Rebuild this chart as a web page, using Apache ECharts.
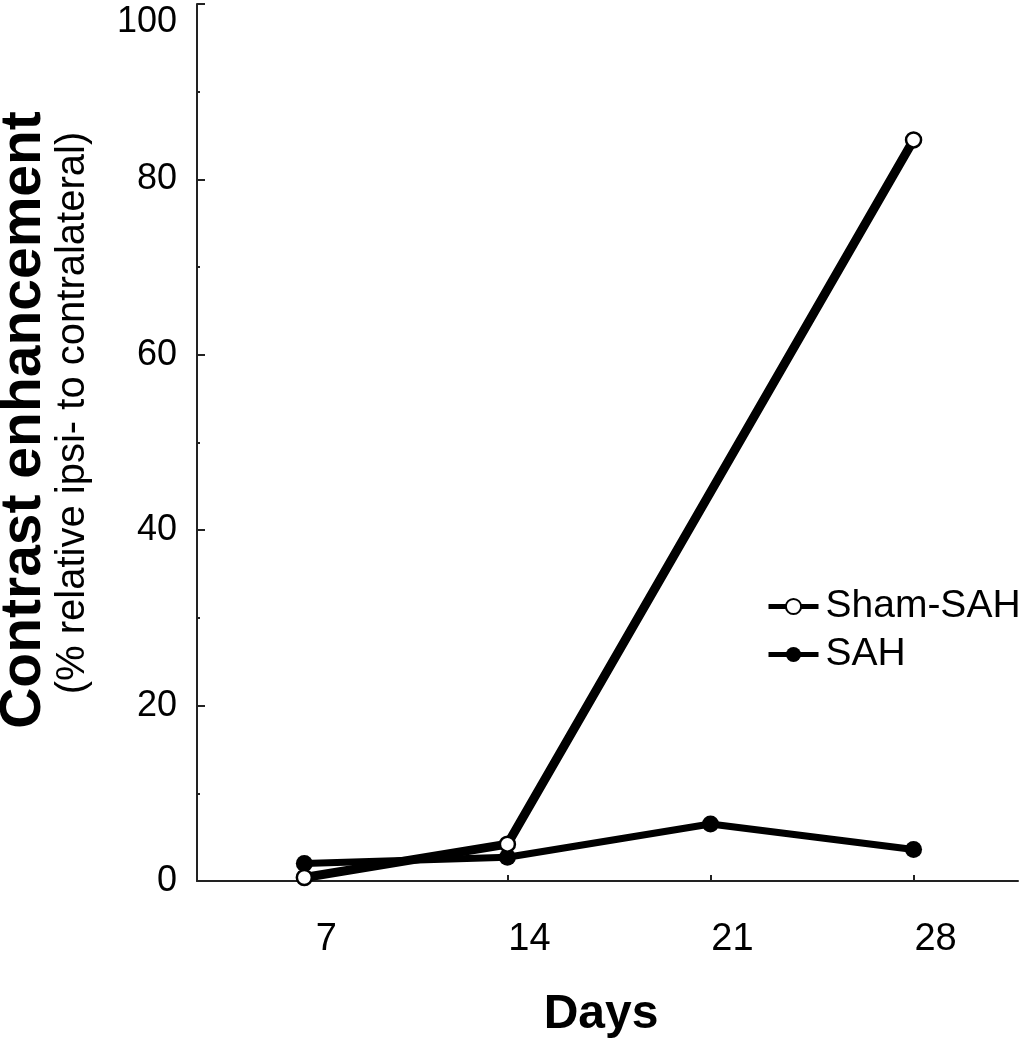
<!DOCTYPE html>
<html>
<head>
<meta charset="utf-8">
<script src="https://cdn.jsdelivr.net/npm/echarts@6/dist/echarts.min.js"></script>
<style>
  html, body { margin: 0; padding: 0; background: #fff; }
  #chart { width: 1022px; height: 1050px; }
</style>
</head>
<body>
<div id="chart"></div>
<script>
// ---- data ----
const days = [7, 14, 21, 28];
const shamDays = [7, 14, 28];
const shamValues = [0.4, 4.2, 84.5];
const sahDays = [7, 14, 21, 28];
const sahValues = [2.0, 2.7, 6.5, 3.6];
const yTicks = [0, 20, 40, 60, 80, 100];
const seriesNames = ['Sham-SAH', 'SAH'];

const FONT = '"Liberation Sans", Arial, Helvetica, sans-serif';

const shamData = shamDays.map((d, i) => [d, shamValues[i]]);
const sahData = sahDays.map((d, i) => [d, sahValues[i]]);

const chart = echarts.init(document.getElementById('chart'), null, { renderer: 'canvas' });

chart.setOption({
  animation: false,
  backgroundColor: '#fff',
  grid: { left: 197, right: 4, top: 4, bottom: 169, containLabel: false, outerBoundsMode: 'none' },
  xAxis: {
    type: 'value',
    min: 3.3,
    max: 31.6,
    axisLine: { show: true, lineStyle: { color: '#222', width: 2 } },
    axisTick: { show: true, inside: true, length: 6, customValues: days, lineStyle: { color: '#222', width: 2 } },
    axisLabel: {
      customValues: days,
      margin: 40,
      fontFamily: FONT,
      fontSize: 38,
      color: '#000',
      padding: [0, 0, 0, 44]
    },
    splitLine: { show: false }
  },
  yAxis: {
    type: 'value',
    min: yTicks[0],
    max: yTicks[yTicks.length - 1],
    interval: 20,
    axisLine: { show: true, lineStyle: { color: '#222', width: 2 } },
    axisTick: { show: true, inside: true, length: 8, lineStyle: { color: '#222', width: 2 } },
    minorTick: { show: true, splitNumber: 2, length: 3, lineStyle: { color: '#222', width: 2 } },
    axisLabel: {
      margin: 20,
      fontFamily: FONT,
      fontSize: 36,
      color: '#000',
      verticalAlignMaxLabel: 'top'
    },
    splitLine: { show: false }
  },
  legend: {
    orient: 'vertical',
    left: 761,
    top: 582,
    itemWidth: 50,
    itemHeight: 19,
    itemGap: 9,
    textStyle: { fontFamily: FONT, fontSize: 39, color: '#000', padding: [0, 0, 0, 2] },
    data: [
      { name: seriesNames[0], lineStyle: { width: 5, color: '#000' }, itemStyle: { color: '#fff', borderColor: '#000', borderWidth: 2 } },
      { name: seriesNames[1], lineStyle: { width: 5, color: '#000' }, itemStyle: { color: '#000' } }
    ]
  },
  series: [
    {
      name: seriesNames[0],
      type: 'line',
      data: shamData,
      symbol: 'circle',
      symbolSize: 15,
      lineStyle: { color: '#000', width: 9 },
      itemStyle: { color: '#fff', borderColor: '#000', borderWidth: 2.5 },
      z: 3
    },
    {
      name: seriesNames[1],
      type: 'line',
      data: sahData,
      symbol: 'circle',
      symbolSize: 17,
      lineStyle: { color: '#000', width: 7 },
      itemStyle: { color: '#000', borderColor: '#000', borderWidth: 0 },
      z: 2
    }
  ],
  graphic: [
    {
      type: 'text',
      x: 24, y: 420,
      rotation: Math.PI / 2,
      style: {
        text: 'Contrast enhancement',
        font: 'bold 57px ' + FONT,
        fill: '#000',
        textAlign: 'center',
        textVerticalAlign: 'middle'
      }
    },
    {
      type: 'text',
      x: 73, y: 413,
      rotation: Math.PI / 2,
      style: {
        text: '(% relative ipsi- to contralateral)',
        font: '40px ' + FONT,
        fill: '#000',
        textAlign: 'center',
        textVerticalAlign: 'middle'
      }
    },
    {
      type: 'text',
      x: 601, y: 1015,
      style: {
        text: 'Days',
        font: 'bold 48px ' + FONT,
        fill: '#000',
        textAlign: 'center',
        textVerticalAlign: 'middle'
      }
    }
  ]
});
</script>
</body>
</html>
